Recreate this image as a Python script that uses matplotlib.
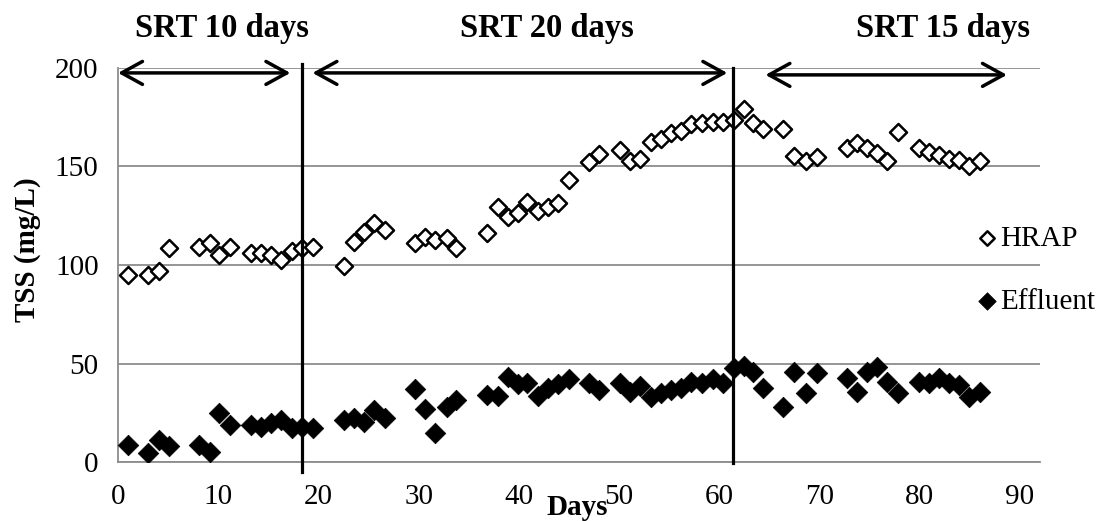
import numpy as np
import matplotlib.pyplot as plt

plt.rcParams['font.family'] = ['Liberation Serif', 'DejaVu Serif']

# sampling days
days = [1.0, 3.0, 4.1, 5.1, 8.1, 9.2, 10.1, 11.2, 13.3, 14.3, 15.3, 16.3, 17.4, 18.4, 19.5,
        22.5, 23.5, 24.5, 25.5, 26.6, 29.6, 30.6, 31.6, 32.8, 33.7, 36.8, 37.9, 38.9, 39.9,
        40.8, 41.9, 42.9, 43.9, 45.0, 47.0, 48.0, 50.1, 51.1, 52.1, 53.2, 54.2, 55.2, 56.2,
        57.2, 58.3, 59.4, 60.4, 61.5, 62.5, 63.4, 64.4, 66.4, 67.5, 68.6, 69.7, 72.7, 73.7,
        74.7, 75.7, 76.7, 77.8, 79.9, 80.9, 81.9, 82.9, 83.9, 84.9, 86.0]

hrap = [95, 95, 97, 108.8, 109, 111, 105, 109, 106, 106, 105, 102.5, 107, 108.5, 109,
        99.7, 111.8, 117, 121.5, 118, 111, 114, 112.7, 113.5, 108.5, 116, 129.6, 124.5, 126.6,
        132, 127.4, 129.6, 131.3, 143, 152.4, 156.2, 158.4, 153, 153.8, 162.6, 164, 166.8, 168,
        171.6, 172, 172.8, 172.4, 173.6, 179, 172, 169, 169, 155.5, 153, 155, 159.2, 161.7,
        159.2, 157, 153, 167.7, 159.2, 157.5, 155.8, 153.8, 153.3, 150.3, 153]

effluent = [8.6, 4.4, 11.2, 8.3, 8.6, 4.9, 25, 18.8, 18.8, 17.6, 19.6, 21.3, 17.1, 17.9, 17.1,
            21.3, 22.2, 20.5, 26.4, 22.2, 36.9, 26.7, 14.5, 28, 31.5, 34, 33.5, 43.3, 39.6,
            40.3, 33.5, 37.4, 39.6, 42, 40.3, 36.5, 40.3, 35.7, 38.6, 32.8, 34.9, 36.5, 37.4,
            40.8, 40.3, 42, 40, 47.6, 48.7, 45.8, 37.4, 28, 45.8, 34.9, 45, 42.5, 35.7,
            45.8, 48.4, 40.8, 34.9, 40.8, 40.3, 42.5, 40.3, 39, 32.8, 35.4]

# SRT periods: label, label x, arrow start, arrow end
srt_labels = ['SRT 10 days', 'SRT 20 days', 'SRT 15 days']
srt_text_x = [10.4, 42.8, 82.3]
srt_arrow_start = [0.0, 19.4, 64.6]
srt_arrow_end = [17.2, 60.8, 88.7]
srt_arrow_y = [197.5, 197.5, 196.5]
divider_x = [18.4, 61.4]

fig = plt.figure(figsize=(10.98, 5.21), dpi=100)
ax = fig.add_axes([0.1075, 0.1132, 0.8397, 0.7563])

ax.scatter(days, hrap, marker='D', s=75, facecolors='white', edgecolors='black',
           linewidths=1.8, label='HRAP', zorder=3)
ax.scatter(days, effluent, marker='D', s=110, facecolors='black', edgecolors='black',
           linewidths=0.5, label='Effluent', zorder=3)

ax.set_xlim(0, 92)
ax.set_ylim(0, 200)
ax.set_xticks(np.arange(0, 91, 10))
ax.set_yticks(np.arange(0, 201, 50))
ax.tick_params(length=0, labelsize=21)
ax.tick_params(axis='x', pad=16)
ax.tick_params(axis='y', pad=14)
ax.grid(axis='y', color='#8c8c8c', lw=1.3)
ax.set_axisbelow(True)
for side in ['top', 'right']:
    ax.spines[side].set_visible(False)
for side in ['left', 'bottom']:
    ax.spines[side].set_color('#8c8c8c')
    ax.spines[side].set_linewidth(1.3)

ax.set_xlabel('Days', fontsize=21, fontweight='bold', va='baseline')
ax.xaxis.set_label_coords(0.498, -0.135)
ax.set_ylabel('TSS (mg/L)', fontsize=21, fontweight='bold', va='center')
ax.yaxis.set_label_coords(-0.098, 0.538)

# period dividers
ax.plot([divider_x[0]] * 2, [202, -5], color='black', lw=2.3, clip_on=False, zorder=4)
ax.plot([divider_x[1]] * 2, [200, -0.5], color='black', lw=2.3, clip_on=False, zorder=4)

for lab, tx, x0, x1, ya in zip(srt_labels, srt_text_x, srt_arrow_start, srt_arrow_end, srt_arrow_y):
    ax.annotate('', xy=(x1, ya), xytext=(x0, ya),
                arrowprops=dict(arrowstyle='<->,head_length=1.0,head_width=0.55',
                                mutation_scale=15, lw=2.5, color='black',
                                shrinkA=0, shrinkB=0), annotation_clip=False)
    ax.text(tx, 215.5, lab, fontsize=23.5, fontweight='bold', ha='center', va='baseline')

ax.legend(loc='center left', bbox_to_anchor=(0.935, 0.487), frameon=False,
          fontsize=21, handlelength=0.5, handletextpad=0.2, labelspacing=1.25,
          borderpad=0, markerscale=0.85, borderaxespad=0)

fig.savefig('out.png', dpi=100)
